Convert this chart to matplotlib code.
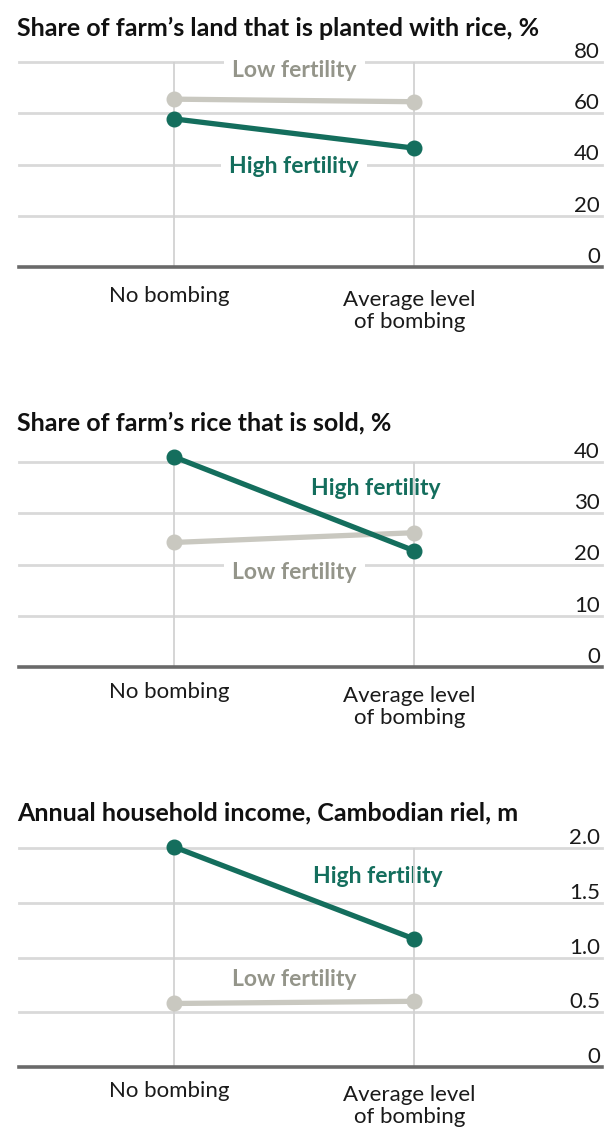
import matplotlib
matplotlib.use("Agg")
import matplotlib.pyplot as plt
import matplotlib.transforms as mtransforms

# ---- data ----
categories = ["No bombing", "Average level\nof bombing"]
titles = [
    "Share of farm\u2019s land that is planted with rice, %",
    "Share of farm\u2019s rice that is sold, %",
    "Annual household income, Cambodian riel, m",
]
high_fertility = [
    [57.8, 46.4],
    [41.0, 22.7],
    [2.01, 1.17],
]
low_fertility = [
    [65.5, 64.5],
    [24.3, 26.2],
    [0.58, 0.60],
]
yticks = [
    [0, 20, 40, 60, 80],
    [0, 10, 20, 30, 40],
    [0, 0.5, 1.0, 1.5, 2.0],
]
ytick_labels = [
    ["0", "20", "40", "60", "80"],
    ["0", "10", "20", "30", "40"],
    ["0", "0.5", "1.0", "1.5", "2.0"],
]
series_names = ["High fertility", "Low fertility"]

# ---- layout (pixels) ----
W, H = 606, 1132
DPI = 100
ax_left, ax_right = 19, 602
ax_vert = [(62, 267), (462, 667), (848, 1067)]
title_y = [28, 423, 813]
cat_baseline_off = [35, 31, 30]
line_gap = 26
label_pos = [
    [(0.5, 39.4), (0.5, 76.5)],
    [(0.84, 34.9), (0.5, 18.5)],
    [(0.85, 1.744), (0.5, 0.80)],
]

TEAL = "#146e5d"
LOW_LINE = "#c9c8c0"
LOW_TEXT = "#94958a"
GRID = "#d9d9d9"
VLINE = "#d2d2d2"
BASE = "#6a6a6a"

FONT = "Lato"

fig = plt.figure(figsize=(W / DPI, H / DPI), dpi=DPI)
fig.patch.set_facecolor("white")

xlo = -(174 - ax_left) / 240.0
xhi = xlo + (ax_right - ax_left) / 240.0

for i in range(3):
    top, bot = ax_vert[i]
    ax = fig.add_axes([ax_left / W, 1 - bot / H, (ax_right - ax_left) / W, (bot - top) / H])
    ymax = yticks[i][-1]
    ax.set_xlim(xlo, xhi)
    ax.set_ylim(0, ymax)
    ax.axis("off")
    x = list(range(len(categories)))
    for t in yticks[i][1:]:
        ax.axhline(t, color=GRID, lw=2.0, zorder=1, clip_on=False)
    ax.axhline(0, color=BASE, lw=2.6, zorder=6, clip_on=False)
    for xi in x:
        ax.plot([xi, xi], [0, ymax], color=VLINE, lw=1.3, zorder=3, solid_capstyle="butt")
    ax.plot(x, low_fertility[i], color=LOW_LINE, lw=3.8, marker="o", ms=10.5,
            zorder=4, solid_capstyle="butt", clip_on=False)
    ax.plot(x, high_fertility[i], color=TEAL, lw=3.8, marker="o", ms=10.5,
            zorder=5, solid_capstyle="butt", clip_on=False)
    (hx, hy), (lx, ly) = label_pos[i]
    ax.text(hx, hy, series_names[0], color=TEAL, fontsize=16.5, fontweight="bold",
            family=FONT, ha="center", va="center", zorder=2,
            bbox=dict(facecolor="white", edgecolor="none", pad=6))
    ax.text(lx, ly, series_names[1], color=LOW_TEXT, fontsize=16.5, fontweight="bold",
            family=FONT, ha="center", va="center", zorder=2,
            bbox=dict(facecolor="white", edgecolor="none", pad=6))
    tr = mtransforms.blended_transform_factory(fig.transFigure, ax.transData)
    off = mtransforms.ScaledTranslation(0, 4 / DPI, fig.dpi_scale_trans)
    for t, lab in zip(yticks[i], ytick_labels[i]):
        ax.text(600 / W, t, lab, transform=tr + off, ha="right", va="baseline",
                fontsize=16, family=FONT, color="#1a1a1a", zorder=7)
    trc = mtransforms.blended_transform_factory(ax.transData, fig.transFigure)
    for xi, c in zip(x, categories):
        nlines = c.count("\n")
        cat_y = 1 - (bot + cat_baseline_off[i] + nlines * line_gap) / H
        ax.text(xi - 0.02, cat_y, c, transform=trc, ha="center", va="baseline",
                fontsize=16, family=FONT, color="#1a1a1a", linespacing=1.12,
                multialignment="center")
    fig.text(17 / W, 1 - title_y[i] / H, titles[i], ha="left", va="center",
             fontsize=18, fontweight="bold", family=FONT, color="#111111")

fig.savefig("out.png", dpi=DPI, facecolor="white")
